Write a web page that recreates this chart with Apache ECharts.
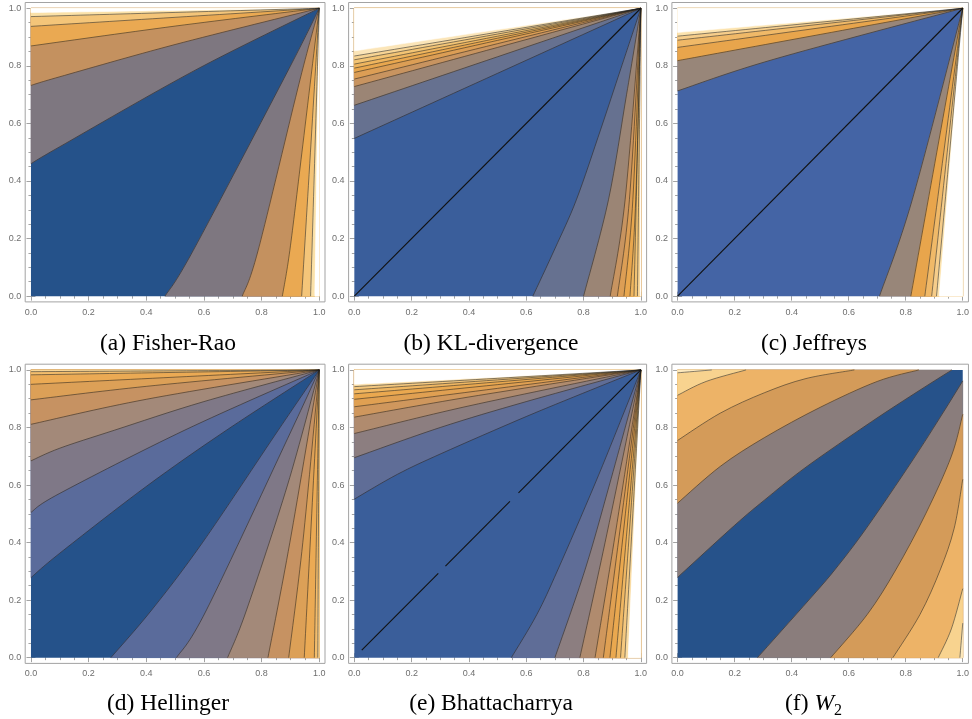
<!DOCTYPE html>
<html>
<head>
<meta charset="utf-8">
<script src="https://cdn.jsdelivr.net/npm/echarts@6/dist/echarts.min.js"></script>
<style>
  html, body { margin: 0; padding: 0; background: #fff; }
  #chart { width: 972px; height: 719px; }
</style>
</head>
<body>
<div id="chart"></div>
<script>
// tick labels (same on every panel)
const tickValues = [0, 0.2, 0.4, 0.6, 0.8, 1.0]
const minorTickValues = [0.05, 0.1, 0.15, 0.25, 0.3, 0.35, 0.45, 0.5, 0.55, 0.65, 0.7, 0.75, 0.85, 0.9, 0.95]

// contour lines, [x, y] points
// "upper" lines start on the left/top side, "lower" lines on the bottom/right side
// (a) Fisher-Rao
const fisherUpper = [
  [[0, 0.460], [0.10, 0.519], [0.57, 0.785], [1, 1]],
  [[0, 0.732], [0.10, 0.762], [0.50, 0.874], [1, 1]],
  [[0, 0.869], [0.50, 0.938], [1, 1]],
  [[0, 0.937], [1, 1]],
  [[0, 0.971], [1, 1]]
]
const fisherUpperEdge = [[0, 0.985], [1, 1]]
const fisherLower = [
  [[0.465, 0], [0.563, 0.159], [0.8925, 0.785], [1, 1]],
  [[0.733, 0], [0.788, 0.159], [0.933, 0.751], [1, 1]],
  [[0.872, 0], [0.898, 0.159], [0.940, 0.50], [1, 1]],
  [[0.939, 0], [1, 1]],
  [[0.970, 0], [1, 1]]
]
const fisherLowerEdge = [[0.985, 0], [1, 1]]
const fisherColors = ['#25528a', '#7e7780', '#c4915f', '#eaa952', '#f4c579', '#fbe1a8']

// (b) KL-divergence
const klUpper = [
  [[0, 0.548], [1, 1]],
  [[0, 0.663], [1, 1]],
  [[0, 0.728], [1, 1]],
  [[0, 0.754], [1, 1]],
  [[0, 0.777], [1, 1]],
  [[0, 0.792], [1, 1]],
  [[0, 0.806], [1, 1]],
  [[0, 0.821], [1, 1]],
  [[0, 0.834], [1, 1]]
]
const klUpperEdge = [[0, 0.852], [1, 1]]
const klLower = [
  [[0.623, 0], [0.700, 0.165], [0.775, 0.335], [0.860, 0.58], [0.930, 0.79], [1, 1]],
  [[0.800, 0], [0.887, 0.335], [0.950, 0.70], [1, 1]],
  [[0.893, 0], [0.945, 0.335], [1, 1]],
  [[0.918, 0], [0.960, 0.335], [1, 1]],
  [[0.941, 0], [0.972, 0.335], [1, 1]],
  [[0.962, 0], [0.982, 0.335], [1, 1]],
  [[0.976, 0], [1, 1]],
  [[0.988, 0], [1, 1]]
]
const klLowerEdge = [[0.998, 0], [1, 1]]
const klDiagonal = [[[0, 0], [1, 1]]]
const klColors = ['#3a5e9b', '#667190', '#9b8575', '#c89460', '#dc9e55', '#e9a74e', '#efb55e', '#f3c474', '#f7d494', '#fbe5b8']

// (c) Jeffreys
const jeffreysUpper = [
  [[0, 0.713], [0.335, 0.822], [1, 1]],
  [[0, 0.818], [1, 1]],
  [[0, 0.864], [1, 1]],
  [[0, 0.889], [1, 1]],
  [[0, 0.903], [1, 1]]
]
const jeffreysUpperEdge = [[0, 0.916], [1, 1]]
const jeffreysLower = [
  [[0.708, 0], [0.823, 0.335], [1, 1]],
  [[0.818, 0], [1, 1]],
  [[0.867, 0], [1, 1]],
  [[0.891, 0], [1, 1]],
  [[0.908, 0], [1, 1]]
]
const jeffreysLowerEdge = [[0.918, 0], [1, 1]]
const jeffreysDiagonal = [[[0, 0], [1, 1]]]
const jeffreysColors = ['#4464a5', '#988679', '#e8a54c', '#f0b968', '#f6cd8a', '#fce3ae']

// (d) Hellinger
const hellingerUpper = [
  [[0, 0.278], [0.10, 0.363], [0.40, 0.595], [0.679, 0.791], [1, 1]],
  [[0, 0.505], [0.10, 0.571], [0.534, 0.791], [1, 1]],
  [[0, 0.684], [0.10, 0.728], [0.291, 0.791], [0.60, 0.890], [1, 1]],
  [[0, 0.811], [0.40, 0.898], [1, 1]],
  [[0, 0.896], [0.40, 0.943], [1, 1]],
  [[0, 0.950], [1, 1]],
  [[0, 0.983], [1, 1]],
  [[0, 0.994], [1, 1]]
]
const hellingerLower = [
  [[0.277, 0], [0.419, 0.166], [0.595, 0.40], [0.858, 0.791], [1, 1]],
  [[0.505, 0], [0.609, 0.166], [0.904, 0.791], [1, 1]],
  [[0.682, 0], [0.748, 0.166], [0.890, 0.60], [1, 1]],
  [[0.822, 0], [0.898, 0.40], [1, 1]],
  [[0.894, 0], [0.943, 0.40], [1, 1]],
  [[0.948, 0], [1, 1]],
  [[0.983, 0], [1, 1]],
  [[0.995, 0], [1, 1]]
]
const hellingerColors = ['#25528a', '#5a6b9b', '#7f7887', '#a38979', '#c69262', '#dca057', '#ebaa54', '#f3bd6c', '#f9d596']

// (e) Bhattacharrya
const bhattUpper = [
  [[0, 0.551], [0.15, 0.637], [0.305, 0.710], [0.60, 0.838], [0.85, 0.940], [1, 1]],
  [[0, 0.695], [0.30, 0.800], [0.60, 0.890], [1, 1]],
  [[0, 0.779], [0.40, 0.875], [1, 1]],
  [[0, 0.836], [0.40, 0.906], [1, 1]],
  [[0, 0.872], [1, 1]],
  [[0, 0.898], [1, 1]],
  [[0, 0.917], [1, 1]],
  [[0, 0.931], [1, 1]],
  [[0, 0.942], [1, 1]]
]
const bhattUpperEdge = [[0, 0.950], [1, 1]]
const bhattLower = [
  [[0.548, 0], [0.637, 0.15], [0.710, 0.305], [0.838, 0.60], [0.940, 0.85], [1, 1]],
  [[0.700, 0], [0.805, 0.305], [0.890, 0.60], [1, 1]],
  [[0.787, 0], [0.875, 0.40], [1, 1]],
  [[0.840, 0], [0.906, 0.40], [1, 1]],
  [[0.869, 0], [1, 1]],
  [[0.892, 0], [1, 1]],
  [[0.913, 0], [1, 1]],
  [[0.929, 0], [1, 1]],
  [[0.944, 0], [1, 1]]
]
const bhattLowerEdge = [[0.956, 0], [1, 1]]
const bhattDiagonal = [
  [[0.026, 0.026], [0.293, 0.293]],
  [[0.318, 0.318], [0.543, 0.543]],
  [[0.573, 0.573], [1, 1]]
]
const bhattColors = ['#3a5e9a', '#5f6d97', '#8c7e80', '#b08b6e', '#cf975d', '#e0a052', '#eaa84f', '#f0b762', '#f5c87e', '#f9dba2']

// (f) W2
const w2Upper = [
  [[0, 0.279], [0.20, 0.460], [0.305, 0.548], [0.45, 0.662], [0.68, 0.820], [0.85, 0.930], [0.962, 1]],
  [[0, 0.537], [0.15, 0.665], [0.305, 0.765], [0.50, 0.870], [0.70, 0.960], [0.846, 1]],
  [[0, 0.755], [0.15, 0.850], [0.305, 0.921], [0.45, 0.970], [0.62, 1]],
  [[0, 0.912], [0.10, 0.960], [0.24, 1]],
  [[0, 0.990], [0.12, 1]]
]
const w2Lower = [
  [[0.280, 0], [0.460, 0.20], [0.551, 0.305], [0.662, 0.45], [0.820, 0.68], [0.930, 0.85], [1, 0.962]],
  [[0.537, 0], [0.665, 0.15], [0.765, 0.305], [0.870, 0.50], [0.960, 0.70], [1, 0.846]],
  [[0.755, 0], [0.850, 0.15], [0.921, 0.305], [0.970, 0.45], [1, 0.62]],
  [[0.914, 0], [0.960, 0.10], [1, 0.24]],
  [[0.990, 0], [1, 0.12]]
]
const w2Colors = ['#26528a', '#8a7d7c', '#d49b59', '#edb367', '#f8d38f', '#fde9bd']

const panels = [
  { upper: fisherUpper, upperEdge: fisherUpperEdge, lower: fisherLower, lowerEdge: fisherLowerEdge, colors: fisherColors },
  { upper: klUpper, upperEdge: klUpperEdge, lower: klLower, lowerEdge: klLowerEdge, colors: klColors, diagonal: klDiagonal },
  { upper: jeffreysUpper, upperEdge: jeffreysUpperEdge, lower: jeffreysLower, lowerEdge: jeffreysLowerEdge, colors: jeffreysColors, diagonal: jeffreysDiagonal },
  { upper: hellingerUpper, lower: hellingerLower, colors: hellingerColors },
  { upper: bhattUpper, upperEdge: bhattUpperEdge, lower: bhattLower, lowerEdge: bhattLowerEdge, colors: bhattColors, diagonal: bhattDiagonal },
  { upper: w2Upper, lower: w2Lower, colors: w2Colors }
]

// frame boxes (axis range -0.02 .. 1.02 like the padded plot frame)
const layout = [
  { left: 25.2, top: 2.5, width: 299.8, height: 299.4 },
  { left: 348.6, top: 2.5, width: 298.0, height: 299.4 },
  { left: 671.9, top: 2.5, width: 299.8, height: 299.4 },
  { left: 25.2, top: 364.2, width: 299.8, height: 299.2 },
  { left: 348.6, top: 364.2, width: 298.0, height: 299.2 },
  { left: 671.9, top: 364.2, width: 299.8, height: 299.2 }
]

const frameColor = '#a3a3a3'

function makeAxis(gi, position, minor, withLabel) {
  return {
    type: 'value',
    gridIndex: gi,
    position: position,
    min: -0.02,
    max: 1.02,
    axisLine: { show: false },
    splitLine: { show: false },
    axisTick: {
      show: true,
      inside: true,
      length: minor ? 2.5 : 4.5,
      customValues: minor ? minorTickValues : tickValues,
      lineStyle: { color: frameColor, width: 1 }
    },
    axisLabel: {
      show: withLabel,
      customValues: tickValues,
      formatter: v => v.toFixed(1),
      color: '#6e6e6e',
      fontFamily: 'Liberation Sans',
      fontSize: 9,
      margin: position === 'bottom' ? 6 : 4
    }
  }
}

// smooth curve through the mapped points (Catmull-Rom as cubic bezier)
function curvePath(px) {
  let d = 'M' + px[0][0] + ',' + px[0][1]
  for (let i = 0; i < px.length - 1; i++) {
    const p0 = px[Math.max(i - 1, 0)]
    const p1 = px[i]
    const p2 = px[i + 1]
    const p3 = px[Math.min(i + 2, px.length - 1)]
    const c1x = p1[0] + (p2[0] - p0[0]) / 6
    const c1y = p1[1] + (p2[1] - p0[1]) / 6
    const c2x = p2[0] - (p3[0] - p1[0]) / 6
    const c2y = p2[1] - (p3[1] - p1[1]) / 6
    d += ' C' + c1x + ',' + c1y + ' ' + c2x + ',' + c2y + ' ' + p2[0] + ',' + p2[1]
  }
  return d
}

const grids = []
const xAxes = []
const yAxes = []
const series = []

layout.forEach((g, gi) => {
  grids.push({
    left: g.left, top: g.top, width: g.width, height: g.height,
    show: true, borderColor: frameColor, borderWidth: 1, backgroundColor: 'transparent'
  })
  xAxes.push(makeAxis(gi, 'bottom', false, true))
  xAxes.push(makeAxis(gi, 'bottom', true, false))
  xAxes.push(makeAxis(gi, 'top', false, false))
  xAxes.push(makeAxis(gi, 'top', true, false))
  yAxes.push(makeAxis(gi, 'left', false, true))
  yAxes.push(makeAxis(gi, 'left', true, false))
  yAxes.push(makeAxis(gi, 'right', false, false))
  yAxes.push(makeAxis(gi, 'right', true, false))
})

panels.forEach((p, gi) => {
  // filled bands, painted from the inside out; each is a contour line closed through a corner
  const polys = [{ line: [[0, 0], [1, 0], [1, 1]], corner: [0, 1], color: p.colors[0], square: true }]
  p.upper.forEach((ln, k) => polys.push({ line: ln, corner: [0, 1], color: p.colors[k + 1] }))
  if (p.upperEdge) polys.push({ line: p.upperEdge, corner: [0, 1], color: '#ffffff' })
  p.lower.forEach((ln, k) => polys.push({ line: ln, corner: [1, 0], color: p.colors[k + 1] }))
  if (p.lowerEdge) polys.push({ line: p.lowerEdge, corner: [1, 0], color: '#ffffff' })

  series.push({
    type: 'custom',
    xAxisIndex: gi * 4,
    yAxisIndex: gi * 4,
    silent: true,
    z: 1,
    data: polys.map(() => [0.5, 0.5]),
    renderItem: (params, api) => {
      const q = polys[params.dataIndex]
      const c = api.coord(q.corner)
      if (q.square) {
        return {
          type: 'polygon',
          shape: { points: q.line.map(pt => api.coord(pt)).concat([c]) },
          style: { fill: q.color }
        }
      }
      const d = curvePath(q.line.map(pt => api.coord(pt))) + ' L' + c[0] + ',' + c[1] + ' Z'
      return {
        type: 'path',
        shape: { pathData: d },
        style: { fill: q.color, stroke: q.color, lineWidth: 0.6 }
      }
    }
  })

  // contour lines
  const lines = p.upper.concat(p.lower)
  series.push({
    type: 'custom',
    xAxisIndex: gi * 4,
    yAxisIndex: gi * 4,
    silent: true,
    z: 2,
    data: lines.map(() => [0.5, 0.5]),
    renderItem: (params, api) => ({
      type: 'path',
      shape: { pathData: curvePath(lines[params.dataIndex].map(pt => api.coord(pt))) },
      style: { fill: null, stroke: 'rgba(30,30,30,0.6)', lineWidth: 0.9 }
    })
  })

  if (p.diagonal) {
    series.push({
      type: 'custom',
      xAxisIndex: gi * 4,
      yAxisIndex: gi * 4,
      silent: true,
      z: 3,
      data: p.diagonal.map(() => [0.5, 0.5]),
      renderItem: (params, api) => ({
        type: 'polyline',
        shape: { points: p.diagonal[params.dataIndex].map(pt => api.coord(pt)) },
        style: { fill: null, stroke: '#111', lineWidth: 1.1 }
      })
    })
  }
})

const capFont = '23.5px "Liberation Serif"'
function caption(text, x, y, font, align) {
  return {
    type: 'text', x: x, y: y, silent: true,
    style: {
      text: text, font: font || capFont, fill: '#000',
      align: align || 'center', textAlign: align || 'center',
      verticalAlign: 'middle', textVerticalAlign: 'middle'
    }
  }
}

const graphics = [
  caption('(a) Fisher-Rao', 168, 344),
  caption('(b) KL-divergence', 491, 344),
  caption('(c) Jeffreys', 814, 344),
  caption('(d) Hellinger', 168, 704),
  caption('(e) Bhattacharrya', 491, 704),
  caption('(f) ', 785, 704, capFont, 'left'),
  caption('W', 814.5, 704, 'italic 23.5px "Liberation Serif"', 'left'),
  caption('2', 834, 711, '16px "Liberation Serif"', 'left')
]

const chart = echarts.init(document.getElementById('chart'))
chart.setOption({
  backgroundColor: '#ffffff',
  animation: false,
  grid: grids,
  xAxis: xAxes,
  yAxis: yAxes,
  series: series,
  graphic: graphics
})
</script>
</body>
</html>
